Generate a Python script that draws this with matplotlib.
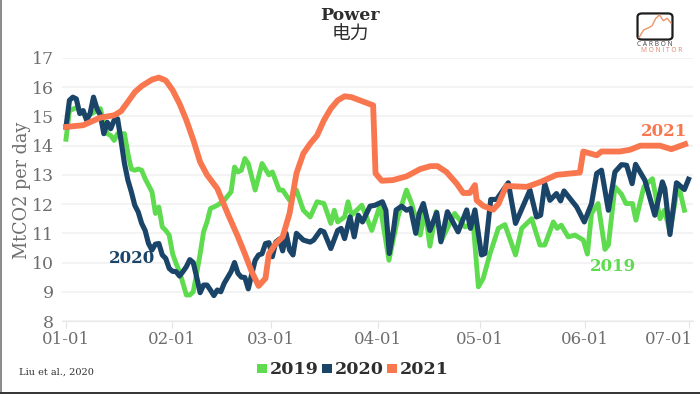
import matplotlib
matplotlib.use("Agg")
import matplotlib.pyplot as plt
from matplotlib.lines import Line2D
from matplotlib.patches import FancyBboxPatch, Patch
from matplotlib.transforms import ScaledTranslation

# day = days since 01-01
days_2019 = [0, 1, 3, 6, 10, 11, 12, 13, 14, 15, 17, 18, 19, 20, 21, 22, 23, 25, 26, 27, 28, 29, 30, 31, 32, 33, 34, 35, 36, 37, 38, 39, 40, 41, 42, 44, 46, 48, 49, 50, 51, 52, 53, 55, 57, 59, 60, 62, 63, 65, 67, 69, 71, 73, 75, 77, 78, 79, 81, 82, 83,
             86, 88.9, 91.3, 93.9, 96.6, 99, 100.5, 103, 104.4, 105.8, 107.6, 109.2, 113, 116, 118.4, 119.9, 121.3, 123.3, 125.7, 127.6, 130.7, 132.5, 135.4, 137.8, 139.2, 141.7, 142.8, 144, 146, 148, 150.4, 151.6, 152.8, 154.7, 156.7, 157.7, 159.6, 161.5, 162.8, 164.7, 165.7, 168, 170.5, 172.7, 174, 175.6, 178, 179.8]
co2_2019 = [14.22, 15.2, 15.3, 15.0, 15.27, 14.75, 14.41, 14.35, 14.18, 14.41, 14.41, 13.73, 13.2, 13.16, 13.2, 13.16, 12.87, 12.42, 11.68, 11.9, 11.22, 11.1, 10.94, 10.3, 9.97, 9.69, 9.29, 8.89, 8.89, 9.0, 9.63, 10.3, 11.05, 11.39, 11.85, 11.96, 12.13, 12.42, 13.27, 13.1, 13.16, 13.56, 13.39, 12.48, 13.39, 13.0, 13.1, 12.48, 12.48, 12.13, 12.48, 11.79, 11.56, 12.08, 12.02, 11.34, 11.79, 11.39, 11.56, 12.08, 11.62,
            11.96, 11.1, 11.96, 10.08, 11.6, 12.48, 12.02, 10.94, 11.8, 10.56, 11.74, 10.77, 11.68, 11.22, 11.34, 9.17, 9.46, 10.31, 11.17, 11.3, 10.26, 11.17, 11.5, 10.6, 10.6, 11.39, 11.17, 11.28, 10.88, 10.94, 10.77, 10.29, 11.68, 12.02, 10.45, 10.6, 12.59, 12.34, 12.02, 12.02, 11.45, 12.59, 12.87, 11.5, 11.79, 11.05, 12.7, 11.79]

days_2020 = [0, 1, 2, 3, 4, 5, 6, 7, 8, 9, 10, 11, 12, 13, 14, 15, 16, 17, 18, 19, 20, 21, 22, 23, 24, 25, 26, 27, 28, 29, 30, 31, 32, 33, 34, 35, 36, 37, 38, 39, 40, 41, 42, 43, 44, 45, 46, 47, 48, 49, 50, 51, 52, 53, 54, 55, 56, 57, 58, 59, 60, 61, 62, 63, 64, 65, 66, 67, 69, 71, 72, 74, 75, 77, 79, 80, 81,
             82.6, 83.8, 85, 86.2, 88.4, 89.8, 92, 93, 94, 95.2, 96, 97.6, 99, 100.2, 101.7, 102.7, 103.9, 105.8, 107.8, 109, 110.9, 114, 116.5, 117.6, 118.9, 120.8, 121.8, 123.5, 125.2, 128.6, 130.7, 134.9, 136.8, 138, 139.2, 140.7, 142.6, 143.8, 144.8, 148.5, 150.7, 152.8, 154.3, 155.7, 157.7, 159.6, 161.5, 163, 164.6, 165.6, 168.3, 171.2, 173.4, 174.1, 175.6, 177.5, 179.8, 181]
co2_2020 = [14.64, 15.55, 15.66, 15.6, 15.1, 15.2, 14.87, 15.1, 15.66, 15.27, 15.04, 14.41, 14.8, 14.58, 14.87, 14.92, 14.18, 13.39, 12.82, 12.42, 11.96, 11.73, 11.34, 11.1, 10.65, 10.43, 10.63, 10.65, 10.26, 10.14, 9.8, 9.7, 9.69, 9.54, 9.69, 9.86, 10.1, 10.0, 9.5, 8.97, 9.23, 9.23, 9.06, 8.87, 9.06, 9.0, 9.29, 9.49, 9.69, 10.0, 9.63, 9.5, 9.49, 9.1, 9.6, 10.08, 10.26, 10.3, 10.65, 10.68, 10.2, 10.7, 10.8, 10.4, 11.0, 10.43, 10.26, 11.0, 10.77, 10.7, 10.77, 11.1, 11.05, 10.48, 11.1, 11.17, 10.82,
            11.56, 10.88, 11.62, 11.39, 11.93, 11.96, 12.08, 11.79, 10.31, 11.1, 11.8, 11.93, 11.79, 11.85, 11.0, 11.68, 12.02, 11.1, 11.71, 10.71, 11.74, 11.05, 11.8, 11.17, 11.8, 10.26, 10.31, 12.16, 12.16, 12.73, 11.34, 12.48, 11.56, 11.62, 12.7, 12.13, 12.36, 12.11, 12.45, 11.9, 11.39, 12.02, 13.05, 13.16, 11.79, 13.1, 13.35, 13.33, 12.7, 13.36, 12.82, 11.62, 12.76, 12.53, 10.96, 12.73, 12.5, 12.85]

days_2021 = [0, 5, 10, 14, 16, 18, 20, 22, 25, 27, 29, 31, 33, 35, 37, 39, 41, 44, 47, 50, 52, 54, 56, 58, 59, 61, 63, 65, 67, 69, 71, 73, 75, 77, 79, 81, 83,
             89.3, 90, 91.8, 95, 99, 103, 106, 108, 110.6, 113.6, 115.5, 117.4, 118.9, 119.4, 121.3, 124.2, 125.7, 128, 134, 138, 142.6, 149.4, 150.4, 154.3, 155.7, 161, 164, 167, 172.7, 176, 180]
co2_2021 = [14.64, 14.7, 14.96, 15.04, 15.18, 15.5, 15.83, 16.04, 16.26, 16.33, 16.23, 15.9, 15.44, 14.87, 14.2, 13.44, 13.0, 12.53, 11.68, 10.88, 10.3, 9.69, 9.2, 9.46, 10.3, 10.65, 10.88, 11.68, 13.05, 13.73, 14.07, 14.35, 14.87, 15.27, 15.55, 15.69, 15.66,
            15.38, 13.05, 12.8, 12.82, 12.95, 13.2, 13.3, 13.3, 13.1, 12.7, 12.38, 12.38, 12.65, 12.13, 11.94, 11.81, 12.0, 12.62, 12.59, 12.76, 13.0, 13.08, 13.8, 13.67, 13.8, 13.8, 13.86, 14.0, 14.0, 13.88, 14.05]

tick_days = [0, 30.8, 59.6, 90.7, 120.3, 151, 181]
tick_labels = ["01-01", "02-01", "03-01", "04-01", "05-01", "06-01", "07-01"]
y_ticks = [8, 9, 10, 11, 12, 13, 14, 15, 16, 17]

logo_x = [0.08, 0.2, 0.32, 0.42, 0.52, 0.62, 0.72, 0.82, 0.92]
logo_y = [0.12, 0.38, 0.45, 0.52, 0.78, 0.9, 0.7, 0.78, 0.62]

GREEN = "#5edb4e"
NAVY = "#1a4468"
ORANGE = "#f9774f"
GRAY = "#6e6e6e"
DARK = "#2e2e2e"
W, H = 700, 394

plt.rcParams["font.family"] = ["DejaVu Serif"]

fig = plt.figure(figsize=(7, 3.94), dpi=100)
ax = fig.add_axes([62 / W, 1 - 321 / H, (693 - 62) / W, (321 - 58) / H])

ax.plot(days_2019, co2_2019, color=GREEN, lw=3.5, solid_joinstyle="round", clip_on=False)
ax.plot(days_2020, co2_2020, color=NAVY, lw=3.7, solid_joinstyle="round", clip_on=False)
ax.plot(days_2021, co2_2021, color=ORANGE, lw=4.2, solid_joinstyle="round", clip_on=False)

ax.set_xlim(-1.16, 182.3)
ax.set_ylim(8, 17)
ax.set_xticks(tick_days)
ax.set_xticklabels(tick_labels)
ax.set_yticks(y_ticks)
ax.grid(axis="y", color="#f1f1f1", lw=1.2)
ax.set_axisbelow(True)
for side in ["top", "right", "left"]:
    ax.spines[side].set_visible(False)
ax.spines["bottom"].set_color("#e8e8e8")
ax.tick_params(axis="x", length=5, color="#e4e4e4", labelcolor=GRAY, labelsize=12, pad=2)
ax.tick_params(axis="y", length=0, labelcolor=GRAY, labelsize=12.5, pad=6)

# the last label sits left of its tick so that it stays inside the picture
last_label = ax.get_xticklabels()[-1]
last_label.set_horizontalalignment("right")
last_label.set_transform(last_label.get_transform() + ScaledTranslation(4 / 100, 0, fig.dpi_scale_trans))

fig.text(22 / W, 1 - 190 / H, "MtCO2 per day", rotation=90, color=GRAY, fontsize=12.7,
         ha="center", va="center")

ax.text(19.2, 10.15, "2020", color=NAVY, fontsize=12, fontweight="bold", ha="center", va="center")
ax.text(159, 9.85, "2019", color=GREEN, fontsize=12, fontweight="bold", ha="center", va="center")
ax.text(174, 14.5, "2021", color=ORANGE, fontsize=12, fontweight="bold", ha="center", va="center")

fig.text(350 / W, 1 - 15 / H, "Power", fontsize=12.5, fontweight="bold", color=DARK, ha="center", va="center")
fig.text(350 / W, 1 - 34 / H, "电力", fontsize=13.5, color=DARK, ha="center", va="center",
         family=["Noto Sans CJK SC", "DejaVu Sans"])
fig.text(19 / W, 1 - 372 / H, "Liu et al., 2020", fontsize=7, color=DARK, ha="left", va="center")

handles = [Patch(color=GREEN, lw=0, label="2019"), Patch(color=NAVY, lw=0, label="2020"),
           Patch(color=ORANGE, lw=0, label="2021")]
fig.legend(handles=handles, loc="center", bbox_to_anchor=(353 / W, 1 - 370 / H), ncol=3, frameon=False,
           prop={"size": 12.6, "weight": "bold"}, labelcolor=DARK, handlelength=0.57, handleheight=0.45,
           handletextpad=0.17, columnspacing=0.17, borderpad=0)

# logo
logo = fig.add_axes([636 / W, 1 - 41 / H, 38 / W, 29 / H])
logo.set_xlim(0, 1)
logo.set_ylim(0, 1)
logo.axis("off")
logo.add_patch(FancyBboxPatch((0.04, 0.05), 0.92, 0.9, boxstyle="round,pad=0,rounding_size=0.12",
                              fc="white", ec="#1c1c1c", lw=1.6))
logo.plot(logo_x, logo_y, color="#ea9468", lw=1.0)
fig.text(655 / W, 1 - 44.5 / H, "C A R B O N", fontsize=4.8, color="#444444", ha="center", va="center",
         family="Open Sans")
fig.text(662 / W, 1 - 50.5 / H, "M O N I T O R", fontsize=4.8, color="#e0866a", ha="center", va="center",
         family="Open Sans")

# frame of the screenshot
fig.add_artist(Line2D([0.5 / W, 0.5 / W], [0, 1], color="#777777", lw=1.2))
fig.add_artist(Line2D([0, 1], [1.2 / H, 1.2 / H], color="#333333", lw=1.4))

fig.savefig("out.png", dpi=100)
